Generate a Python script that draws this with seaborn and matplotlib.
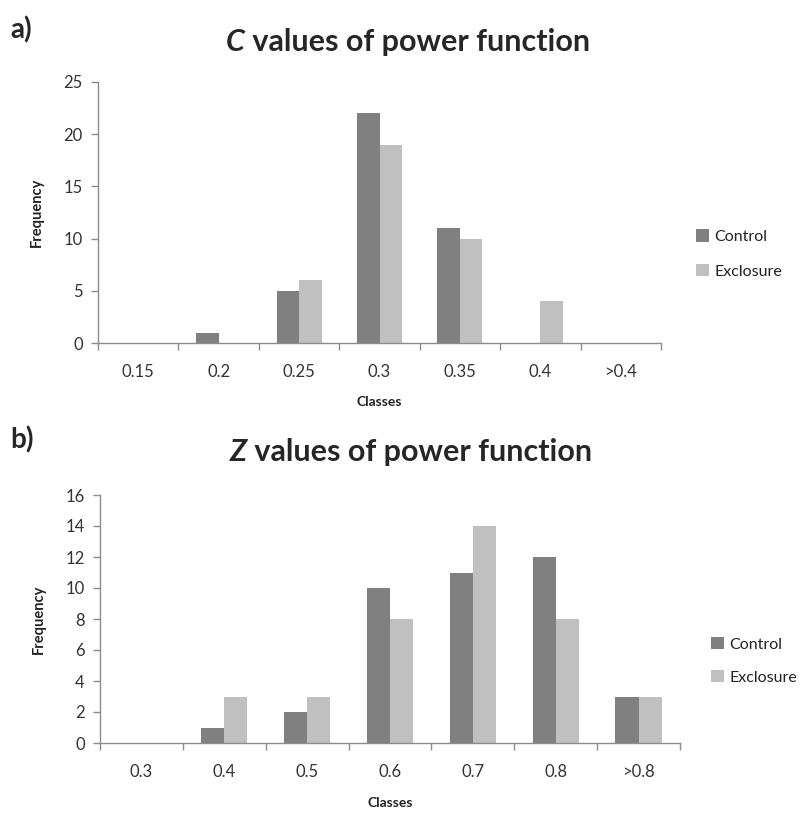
import matplotlib
matplotlib.use("Agg")
import matplotlib.pyplot as plt
import seaborn as sns
import pandas as pd
import numpy as np
from matplotlib.patches import Patch

# ---- data ----
c_classes = ["0.15", "0.2", "0.25", "0.3", "0.35", "0.4", ">0.4"]
c_control = [0, 1, 5, 22, 11, 0, 0]
c_exclosure = [0, 0, 6, 19, 10, 4, 0]

z_classes = ["0.3", "0.4", "0.5", "0.6", "0.7", "0.8", ">0.8"]
z_control = [0, 1, 2, 10, 11, 12, 3]
z_exclosure = [0, 3, 3, 8, 14, 8, 3]

series_names = ["Control", "Exclosure"]
colors = ["#808080", "#c0c0c0"]

sns.set_theme(style="white")
FONT = ["Lato", "DejaVu Sans"]
plt.rcParams["font.family"] = FONT

fig = plt.figure(figsize=(8.03, 8.21), dpi=100)


def long_df(classes, ctrl, excl):
    return pd.DataFrame({
        "Classes": list(classes) * 2,
        "Frequency": list(ctrl) + list(excl),
        "Group": [series_names[0]] * len(classes) + [series_names[1]] * len(classes),
    })


def panel(rect, classes, ctrl, excl, ymax, ystep, title_italic, title_rest, letter,
          letter_xy, title_xy, legend_xy, legend_spacing):
    ax = fig.add_axes(rect)
    df = long_df(classes, ctrl, excl)
    sns.barplot(data=df, x="Classes", y="Frequency", hue="Group", order=classes,
                hue_order=series_names, palette=colors, width=0.56, ax=ax,
                saturation=1, linewidth=0, errorbar=None, legend=False)
    n = len(classes)
    ax.set_xlim(-0.5, n - 0.5)
    ax.set_ylim(0, ymax)
    ax.set_yticks(np.arange(0, ymax + 0.1, ystep))
    ax.yaxis.set_major_formatter(matplotlib.ticker.FormatStrFormatter("%g"))
    for s in ["top", "right"]:
        ax.spines[s].set_visible(False)
    for s in ["left", "bottom"]:
        ax.spines[s].set_color("#8c8c8c")
        ax.spines[s].set_linewidth(1.0)
    ax.set_xticks(np.arange(n))
    ax.set_xticklabels(classes)
    ax.set_xticks(np.arange(-0.5, n, 1.0), minor=True)
    ax.tick_params(axis="x", which="major", length=0, pad=15, labelsize=12, labelcolor="#333333")
    ax.tick_params(axis="x", which="minor", length=5, width=1, color="#8c8c8c", direction="out", bottom=True)
    ax.tick_params(axis="y", which="major", length=5, width=1, color="#8c8c8c", direction="out",
                   left=True, labelsize=12, labelcolor="#333333", pad=6)
    ax.set_xlabel("Classes", fontsize=10, fontweight="bold", labelpad=12, color="#222222")
    ax.set_ylabel("Frequency", fontsize=10.5, fontweight="bold", labelpad=14, color="#222222")
    ax.grid(False)
    handles = [Patch(facecolor=c, edgecolor="none") for c in colors]
    fig.legend(handles, series_names, loc="center left", bbox_to_anchor=legend_xy,
               frameon=False, fontsize=11.5, handlelength=0.8, handleheight=0.8,
               handletextpad=0.35, labelspacing=legend_spacing, labelcolor="#222222",
               borderpad=0, borderaxespad=0)
    t1 = fig.text(0, 0, title_italic, fontsize=22, fontweight="bold", style="italic",
                  ha="left", va="center")
    t2 = fig.text(0, 0, " " + title_rest, fontsize=22, fontweight="bold",
                  ha="left", va="center")
    fig.canvas.draw()
    r = fig.canvas.get_renderer()
    w1 = t1.get_window_extent(r).width / fig.bbox.width
    w2 = t2.get_window_extent(r).width / fig.bbox.width
    x0 = title_xy[0] - (w1 + w2) / 2
    t1.set_position((x0, title_xy[1]))
    t2.set_position((x0 + w1, title_xy[1]))
    fig.text(letter_xy[0], letter_xy[1], letter, fontsize=20, fontweight="bold",
             ha="left", va="center")
    return ax


panel([98 / 803, 1 - 343 / 821, 563 / 803, 261 / 821], c_classes, c_control, c_exclosure,
      25, 5, "C", "values of power function", "a)",
      (10 / 803, 1 - 30 / 821), (408 / 803, 1 - 42 / 821), (696 / 803, 1 - 254 / 821), 1.25)

panel([100 / 803, 1 - 743 / 821, 580 / 803, 248 / 821], z_classes, z_control, z_exclosure,
      16, 2, "Z", "values of power function", "b)",
      (10 / 803, 1 - 440 / 821), (411 / 803, 1 - 452 / 821), (711 / 803, 1 - 661 / 821), 1.15)

fig.savefig("out.png", dpi=100, facecolor="white")
